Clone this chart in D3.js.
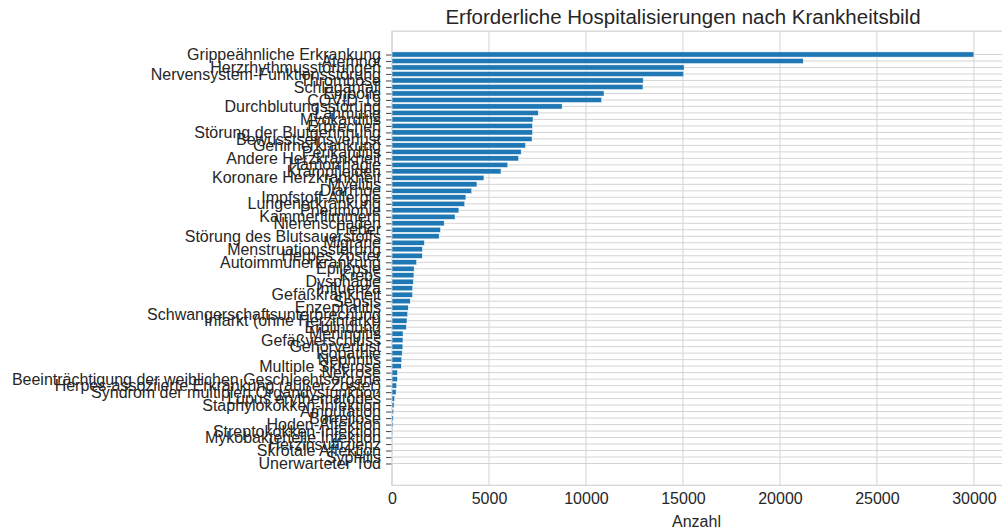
<!DOCTYPE html>
<html><head><meta charset="utf-8">
<script src="https://cdn.jsdelivr.net/npm/d3@7"></script>
<style>
body{margin:0;background:#fff}
svg text{font-family:"Liberation Sans",Arial,sans-serif;fill:#262626}
</style>
</head><body><svg id="chart" width="1002" height="531"></svg>
<script>
const title = "Erforderliche Hospitalisierungen nach Krankheitsbild";
const xLabel = "Anzahl";
const categories = [
"Grippeähnliche Erkrankung","Atemnot","Herzrhythmusstörungen","Nervensystem-Funktionsstörung",
"Thrombose","Schlaganfall","Embolie","COVID-19","Durchblutungsstörung","Lähmung","Myokarditis",
"Erbrechen","Störung der Blutgerinnung","Bewusstseinsverlust","Gehirnerkrankung","Perikarditis",
"Andere Herzkrankheit","Hämorrhagie","Krampfleiden","Koronare Herzkrankheit","Myelitis","Diarrhoe",
"Impfstoff-Allergie","Lungenerkrankung","Pneumonie","Kammerflimmern","Nierenschaden","Fieber",
"Störung des Blutsauerstoffs","Migräne","Menstruationsstörung","Herpes zoster","Autoimmunerkrankung",
"Epilepsie","Krebs","Dysphagie","Influenza","Gefäßkrankheit","Sepsis","Enzephalitis",
"Schwangerschaftsunterbrechung","Infarkt (ohne Herzinfarkt)","Erblindung","Meningitis",
"Gefäßverschluss","Gehörverlust","Isopathie","Nephritis","Multiple Sklerose","Nekrose",
"Beeinträchtigung der weiblichen Geschlechtsorgane","Herpes-assoziierte Erkrankung (außer Zoster)",
"Syndrom der multiplen Organdysfunktion","Lupus erythematodes","Staphylokokken-Infektion",
"Amputation","Borreliose","Hoden-Affektion","Streptokokken-Infektion","Mykobakterielle Infektion",
"Herzinsuffizienz","Skrotale Affektion","Syphilis","Unerwarteter Tod"
];
const values = [
30000,21200,15060,15040,12950,12940,10930,10810,8770,7540,7270,
7240,7250,7220,6890,6660,6530,5970,5620,4740,4380,4110,
3810,3750,3450,3250,2690,2500,2430,1670,1570,1560,1270,
1140,1130,1100,1070,1060,940,840,810,775,740,570,
565,560,525,505,480,285,280,245,210,140,105,
85,70,55,25,15,10,8,5,3
];
const xTicks = [0,5000,10000,15000,20000,25000,30000];

const data = categories.map((c,i)=>({cat:c, val:values[i]}));

const svg = d3.select("#chart");
const L = 392, R = 1003;
const firstC = 54.5, lastC = 463.5;
const step = (lastC-firstC)/(categories.length-1);
const T = firstC - 3.59*step, B = lastC + 3.59*step - 1.5;

const x = d3.scaleLinear().domain([0,31500]).range([L,R]);
const y = d3.scalePoint().domain(categories).range([firstC,lastC]);
const bh = 0.8*step;

const grid = svg.append("g");
grid.selectAll("line.h").data(categories).join("line")
  .attr("x1",L).attr("x2",R).attr("y1",d=>y(d)).attr("y2",d=>y(d))
  .attr("stroke","#d4d4d4").attr("stroke-width",1);
grid.selectAll("line.v").data(xTicks).join("line")
  .attr("x1",d=>x(d)).attr("x2",d=>x(d)).attr("y1",T).attr("y2",B)
  .attr("stroke","#d4d4d4").attr("stroke-width",1);
grid.append("rect").attr("x",L).attr("y",T).attr("width",R-L).attr("height",B-T)
  .attr("fill","none").attr("stroke","#d4d4d4").attr("stroke-width",1.2);

svg.append("g").selectAll("rect").data(data).join("rect")
  .attr("x",x(0)).attr("y",d=>y(d.cat)-bh/2)
  .attr("width",d=>x(d.val)-x(0)).attr("height",bh)
  .attr("fill","#1f77b4").attr("stroke","#ffffff").attr("stroke-width",0.5);

const ya = svg.append("g").attr("transform",`translate(${L},0)`)
  .call(d3.axisLeft(y).tickSize(6).tickPadding(5));
ya.select(".domain").remove();
ya.selectAll(".tick line").attr("stroke","#555").attr("stroke-width",1.1).attr("x2",-6).attr("x1",-0.5);
ya.selectAll(".tick text").attr("font-size","16px").attr("fill","#262626")
  .style("font-family","'Liberation Sans',Arial,sans-serif");

const xa = svg.append("g").attr("transform",`translate(0,${B})`)
  .call(d3.axisBottom(x).tickValues(xTicks).tickFormat(d3.format("d")).tickSize(0).tickPadding(7));
xa.select(".domain").remove();
xa.selectAll(".tick text").attr("font-size","16px").attr("fill","#262626")
  .style("font-family","'Liberation Sans',Arial,sans-serif");

svg.append("text").attr("x",(L+R)/2 - 1).attr("y",527).attr("text-anchor","middle")
  .attr("font-size","16px").text(xLabel);
svg.append("text").attr("x",683).attr("y",24).attr("text-anchor","middle")
  .attr("font-size","20.5px").text(title);
</script>
</body></html>
